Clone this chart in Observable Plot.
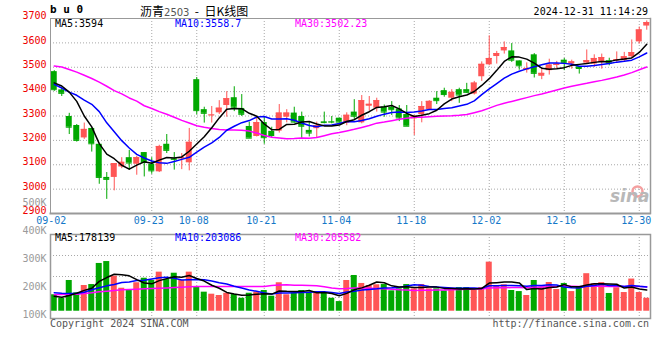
<!DOCTYPE html>
<html><head><meta charset="utf-8">
<script src="https://cdn.jsdelivr.net/npm/d3@7"></script>
<script src="https://cdn.jsdelivr.net/npm/@observablehq/plot@0.6"></script>
<style>
body{margin:0;background:#fff;}
#wrap{position:relative;width:660px;height:360px;overflow:hidden;font-family:"DejaVu Sans Mono",monospace;font-size:10px;}
#wrap svg{position:absolute;left:0;top:0;}
.t{position:absolute;white-space:nowrap;line-height:12px;}
</style></head><body><div id="wrap"></div>
<script>
// ---- data ----
const dates = ["09-02","09-03","09-04","09-05","09-06","09-09","09-10","09-11","09-12","09-13","09-18","09-19","09-20","09-23","09-24","09-25","09-26","09-27","09-30",
"10-08","10-09","10-10","10-11","10-14","10-15","10-16","10-17","10-18","10-21","10-22","10-23","10-24","10-25","10-28","10-29","10-30","10-31",
"11-01","11-04","11-05","11-06","11-07","11-08","11-11","11-12","11-13","11-14","11-15","11-18","11-19","11-20","11-21","11-22","11-25","11-26","11-27","11-28","11-29",
"12-02","12-03","12-04","12-05","12-06","12-09","12-10","12-11","12-12","12-13","12-16","12-17","12-18","12-19","12-20","12-23","12-24","12-25","12-26","12-27","12-30","12-31"];
const open  = [3482,3407,3298,3261,3210,3249,3184,3048,3048,3091,3129,3102,3150,3102,3071,3184,3125,3124,3108,3449,3326,3302,3313,3343,3375,3331,3257,3216,3273,3237,3238,3295,3312,3298,3241,3248,3276,3277,3291,3270,3316,3272,3340,3332,3336,3336,3329,3306,3288,3306,3326,3373,3404,3373,3408,3408,3390,3461,3510,3544,3567,3567,3526,3488,3551,3463,3486,3507,3529,3513,3502,3517,3513,3520,3527,3527,3527,3543,3604,3669];
const high  = [3486,3415,3311,3265,3271,3249,3184,3068,3105,3129,3159,3135,3150,3129,3180,3224,3150,3146,3249,3458,3336,3339,3363,3400,3420,3388,3275,3295,3295,3254,3347,3326,3336,3316,3277,3275,3316,3298,3291,3313,3367,3384,3380,3373,3345,3359,3343,3343,3302,3359,3363,3400,3414,3408,3414,3434,3442,3522,3629,3565,3604,3597,3526,3518,3556,3492,3533,3524,3536,3529,3502,3571,3551,3554,3537,3563,3561,3612,3665,3690];
const low   = [3401,3380,3224,3193,3204,3152,3020,2958,2993,3084,3077,3057,3050,3061,3068,3146,3078,3080,3075,3305,3271,3271,3306,3295,3318,3298,3209,3214,3184,3211,3230,3272,3271,3207,3214,3211,3268,3268,3271,3260,3286,3268,3320,3316,3295,3302,3277,3258,3220,3272,3322,3347,3377,3359,3352,3393,3386,3442,3506,3513,3554,3520,3488,3476,3456,3449,3468,3495,3486,3492,3472,3513,3499,3492,3506,3520,3520,3537,3595,3652];
const close = [3408,3393,3254,3200,3245,3186,3048,3040,3105,3110,3107,3129,3109,3075,3175,3159,3122,3129,3192,3322,3311,3304,3332,3371,3336,3307,3209,3273,3211,3220,3312,3312,3275,3258,3230,3261,3273,3275,3275,3303,3299,3363,3348,3363,3316,3326,3292,3258,3299,3339,3360,3363,3388,3397,3386,3397,3435,3512,3536,3556,3581,3529,3506,3495,3475,3475,3509,3513,3520,3522,3495,3527,3536,3540,3517,3531,3543,3560,3653,3683];
const volume = [138000,109000,258000,155000,216000,224000,401000,417000,294000,193000,182000,239000,277000,258000,328000,266000,319000,258000,328000,202000,160000,143000,132000,151000,140000,109000,151000,160000,174000,126000,239000,138000,155000,174000,160000,151000,151000,109000,81000,258000,300000,233000,216000,222000,224000,171000,188000,224000,188000,224000,188000,188000,171000,188000,199000,199000,174000,199000,412000,216000,222000,174000,165000,132000,258000,202000,241000,182000,233000,165000,207000,315000,230000,240000,149000,197000,157000,270000,157000,109000];
const ma5Head  = [3436,3423,3398,3360];
const ma10Head = [3430,3415,3398,3385,3365,3348,3318,3272,3235];
const ma30Head = [3505,3501,3491,3480,3467,3454,3439,3422,3404,3391,3374,3361,3342,3331,3318,3307,3295,3282,3271,3260,3254,3249,3245,3243,3243,3242,3238,3230,3220];
const vma5Head  = [126000,118000,132000,151000];
const vma10Head = [155000,151000,149000,151000,160000,180000,197000,213000,224000];
const vma30Head = [138000,140000,143000,143000,149000,155000,163000,168000,174000,180000,182000,185000,188000,191000,193000,196000,199000,202000,205000,207000,207000,207000,207000,207000,207000,207000,207000,207000,207000];
const xTickDates = ["09-02","09-23","10-08","10-21","11-04","11-18","12-02","12-16","12-30"];
const priceTicks = [2900,3000,3100,3200,3300,3400,3500,3600,3700];
const volTickLabels = ["500K","400K","300K","200K","100K"];
const priceLegend = ["MA5:3594","MA10:3558.7","MA30:3502.23"];
const volLegend = ["MA5:178139","MA10:203086","MA30:205582"];
const legendColors = ["#000000","#0000ff","#ff00ff"];
const titleCode = "b u 0";
const titleName = "沥青", titleContract = "2503", titleKind = "  -  日K线图";
const stamp = "2024-12-31 11:14:29";
const footLeft = "Copyright 2024 SINA.COM", footRight = "http://finance.sina.com.cn";

// ---- helpers ----
const N = dates.length;
const idx = d3.range(N);
function ma(arr, n, head){ return arr.map((_, i) => i >= n-1 ? d3.mean(arr.slice(i-n+1, i+1)) : head[i]); }
const ma5 = ma(close,5,ma5Head), ma10 = ma(close,10,ma10Head), ma30 = ma(close,30,ma30Head);
const vma5 = ma(volume,5,vma5Head), vma10 = ma(volume,10,vma10Head), vma30 = ma(volume,30,vma30Head);
const RED = "#ff5555", GREEN = "#00a800";
const col = i => close[i] >= open[i] ? RED : GREEN;
const tickIdx = xTickDates.map(d => dates.indexOf(d));
const GRID = {stroke:"#a8a8a8", strokeDasharray:"1 2"};
const baseStyle = {background:"transparent", overflow:"visible", fontFamily:"DejaVu Sans Mono, monospace", fontSize:"10px"};
const xOpt = {domain:[-0.5, N-0.5], axis:null};
const W = 660, H = 360;

// ---- price panel ----
const main = Plot.plot({
  width:W, height:H, marginTop:18, marginBottom:147, marginLeft:50, marginRight:10,
  style:baseStyle, x:xOpt, y:{domain:[2900,3700], axis:null}, color:{type:"identity"},
  marks:[
    Plot.ruleY(priceTicks.slice(1,-1), GRID),
    Plot.ruleX(tickIdx.slice(1), GRID),
    Plot.dot([0], {frameAnchor:"bottom-right", dx:-13, dy:-22, r:5, stroke:"#f4a0a0", strokeWidth:2.5, fill:"none"}),
    Plot.text(["sina"], {frameAnchor:"bottom-right", dx:-1, dy:-12, fill:"#b8b8b8", fontSize:17, fontWeight:"bold", fontStyle:"italic", fontFamily:"DejaVu Sans"}),
    Plot.ruleX(idx, {x:i=>i, y1:i=>low[i], y2:i=>high[i], stroke:col}),
    Plot.rect(idx, {x1:i=>i-0.4, x2:i=>i+0.4, y1:i=>open[i], y2:i=>close[i], fill:col}),
    Plot.ruleY(idx, {x1:i=>i-0.4, x2:i=>i+0.4, y:i=>close[i], stroke:col}),
    Plot.line(idx, {x:i=>i, y:i=>ma30[i], stroke:"#ff00ff"}),
    Plot.line(idx, {x:i=>i, y:i=>ma10[i], stroke:"#0000ff"}),
    Plot.line(idx, {x:i=>i, y:i=>ma5[i], stroke:"#000000"}),
    Plot.axisY({ticks:priceTicks, tickFormat:d=>String(d), tickSize:0, tickPadding:4, color:"#ee0000", fontSize:10, dy:-2.5}),
    Plot.axisX({ticks:tickIdx, tickFormat:i=>dates[i], tickSize:0, tickPadding:3, color:"#1478c8", fontSize:10, dx:-3}),
    Plot.frame({anchor:"top", stroke:"#999", strokeDasharray:"1 1"}),
    Plot.frame({anchor:"left", stroke:"#999", strokeDasharray:"1 1"}),
    Plot.frame({anchor:"right", stroke:"#999", strokeWidth:1.5}),
    Plot.frame({anchor:"bottom", stroke:"#999", strokeWidth:2, strokeDasharray:"1 1"})
  ]
});

// ---- volume panel ----
const vDomain = [-61000, 644000];
const vGrid = [1,2,3].map(k => vDomain[0] + (vDomain[1]-vDomain[0])*k/4);
const vol = Plot.plot({
  width:W, height:H, marginTop:234, marginBottom:42, marginLeft:50, marginRight:10,
  style:baseStyle, x:xOpt, y:{domain:vDomain, axis:null}, color:{type:"identity"},
  marks:[
    Plot.ruleY(vGrid, GRID),
    Plot.ruleX(tickIdx.slice(1), GRID),
    Plot.rect(idx, {x1:i=>i-0.4, x2:i=>i+0.4, y1:0, y2:i=>volume[i], fill:col}),
    Plot.line(idx, {x:i=>i, y:i=>vma30[i], stroke:"#ff00ff"}),
    Plot.line(idx, {x:i=>i, y:i=>vma10[i], stroke:"#0000ff"}),
    Plot.line(idx, {x:i=>i, y:i=>vma5[i], stroke:"#000000"}),
    Plot.frame({stroke:"#999", strokeWidth:1.5})
  ]
});

// ---- volume axis labels ----
const volAxis = Plot.plot({
  width:W, height:H, marginTop:199, marginBottom:46, marginLeft:50, marginRight:10,
  style:baseStyle, y:{type:"point", domain:volTickLabels, padding:0, axis:null},
  marks:[Plot.axisY({tickSize:0, tickPadding:4, color:"#9a9a9a", fontSize:10, dy:1.5})]
});

const wrap = document.getElementById("wrap");
wrap.append(main, vol, volAxis);

function label(text, left, top, css){
  const d = document.createElement("div");
  d.className = "t"; d.textContent = text;
  d.style.left = left + "px"; d.style.top = top + "px";
  Object.assign(d.style, css || {});
  wrap.append(d); return d;
}
// title row
label(titleCode, 50, 4, {fontWeight:"bold", fontSize:"11px", fontFamily:"DejaVu Sans Mono"});
const tt = document.createElement("div");
tt.className = "t"; tt.style.left = "140px"; tt.style.top = "4px";
tt.style.fontFamily = "'Noto Sans CJK SC', sans-serif"; tt.style.fontSize = "12px"; tt.style.lineHeight = "14px";
const s1 = document.createElement("span"); s1.textContent = titleName;
const s2 = document.createElement("span"); s2.textContent = titleContract; s2.style.color = "#555"; s2.style.fontFamily = "'DejaVu Sans', sans-serif"; s2.style.fontSize = "10px";
const s3 = document.createElement("span"); s3.textContent = titleKind; s3.style.whiteSpace = "pre";
tt.append(s1, s2, s3); wrap.append(tt);
const st = label(stamp, 0, 6, {}); st.style.left = ""; st.style.right = "12px";
// legends
const legX = [55, 175, 295];
priceLegend.forEach((t,k) => label(t, legX[k], 18, {color:legendColors[k]}));
volLegend.forEach((t,k) => label(t, legX[k], 232, {color:legendColors[k]}));
// footer
label(footLeft, 50, 318, {color:"#555"});
const fr = label(footRight, 0, 318, {color:"#555"}); fr.style.left = ""; fr.style.right = "11px";
</script></body></html>
